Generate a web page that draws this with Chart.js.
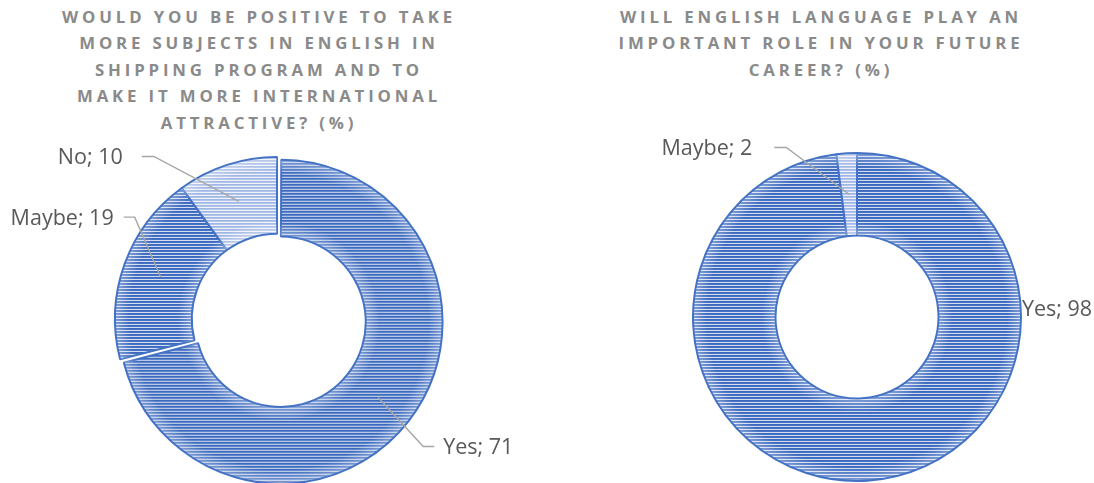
<!DOCTYPE html>
<html>
<head>
<meta charset="utf-8">
<script src="https://cdn.jsdelivr.net/npm/chart.js@4.4.1/dist/chart.umd.min.js"></script>
<style>
  html, body { margin:0; padding:0; background:#fff; width:1094px; height:483px; overflow:hidden; position:relative; }
  .title { position:absolute; top:4px; width:560px; text-align:center; font-family:"Open Sans", sans-serif; font-weight:700;
           font-size:16.8px; line-height:26.4px; letter-spacing:3.85px; color:#8a8a8a; white-space:nowrap; }
  canvas { position:absolute; }
</style>
</head>
<body>
<div class="title" id="t1" style="left:-21px"></div>
<div class="title" id="t2" style="left:541px"></div>
<canvas id="c1" width="547" height="353" style="left:0px;top:130px;width:547px;height:353px"></canvas>
<canvas id="c2" width="547" height="353" style="left:547px;top:130px;width:547px;height:353px"></canvas>
<script>
// ---- data ----
const title1Lines = ["WOULD YOU BE POSITIVE TO TAKE", "MORE SUBJECTS IN ENGLISH IN", "SHIPPING PROGRAM AND TO", "MAKE IT MORE INTERNATIONAL", "ATTRACTIVE? (%)"];
const title2Lines = ["WILL ENGLISH LANGUAGE PLAY AN", "IMPORTANT ROLE IN YOUR FUTURE", "CAREER? (%)"];
const categories1 = ["Yes", "Maybe", "No"];
const values1 = [71, 19, 10];
const categories2 = ["Yes", "Maybe"];
const values2 = [98, 2];

document.getElementById('t1').innerHTML = title1Lines.join('<br>');
document.getElementById('t2').innerHTML = title2Lines.join('<br>');

function stripes(rows) {
  const c = document.createElement('canvas');
  c.width = 4; c.height = rows.length;
  const x = c.getContext('2d');
  rows.forEach((col, i) => { x.fillStyle = col; x.fillRect(0, i, 4, 1); });
  return x.createPattern(c, 'repeat');
}
const darkPat = stripes(['#3d68bb', '#4472C4', '#d3ddf1']);
const lightPat = stripes(['#9fb5e2', '#b3c5ea', '#eef2fa']);

// Chart.js translates an offset arc by offset/4 and grows its drawn radii by
// offset/4 * (1 - sin(min(PI, circumference))); undo that growth so the exploded
// slice keeps the same ring size as the others.
function radiusGrowth(arc) {
  const o = (arc.options.offset || 0) / 4;
  return o * (1 - Math.sin(Math.min(Math.PI, arc.circumference || 0)));
}
const explodeFix = {
  id: 'explodeFix',
  afterDatasetsUpdate(chart) {
    chart.getDatasetMeta(0).data.forEach(arc => {
      const g = radiusGrowth(arc);
      if (g) { arc.outerRadius -= g; arc.innerRadius -= g; }
    });
  }
};

function arcGeom(arc) {
  const mid = (arc.startAngle + arc.endAngle) / 2;
  const t = (arc.options.offset || 0) / 4;
  const g = radiusGrowth(arc);
  return { mid, cx: arc.x + Math.cos(mid) * t, cy: arc.y + Math.sin(mid) * t,
           ri: arc.innerRadius + g, ro: arc.outerRadius + g };
}

// soft light band near inner and outer edges of each ring slice
const glowPlugin = {
  id: 'glow',
  afterDatasetsDraw(chart) {
    const ctx = chart.ctx;
    chart.getDatasetMeta(0).data.forEach(arc => {
      const { cx, cy, ri, ro } = arcGeom(arc);
      ctx.save();
      ctx.beginPath();
      ctx.arc(cx, cy, ro - 1, arc.startAngle, arc.endAngle);
      ctx.arc(cx, cy, ri + 1, arc.endAngle, arc.startAngle, true);
      ctx.closePath();
      ctx.clip();
      const grad = ctx.createRadialGradient(cx, cy, ri, cx, cy, ro);
      const w = 14 / (ro - ri);
      grad.addColorStop(0, 'rgba(255,255,255,0.35)');
      grad.addColorStop(w, 'rgba(255,255,255,0)');
      grad.addColorStop(1 - w, 'rgba(255,255,255,0)');
      grad.addColorStop(1, 'rgba(255,255,255,0.35)');
      ctx.fillStyle = grad;
      ctx.fillRect(cx - ro, cy - ro, ro * 2, ro * 2);
      ctx.restore();
    });
  }
};

const leaderPlugin = {
  id: 'leaders',
  afterDatasetsDraw(chart, args, opts) {
    const ctx = chart.ctx;
    const meta = chart.getDatasetMeta(0);
    const ds = chart.data.datasets[0];
    meta.data.forEach((arc, i) => {
      const L = opts.labels[i];
      const text = chart.data.labels[i] + '; ' + ds.data[i];
      ctx.save();
      ctx.font = opts.font;
      ctx.fillStyle = opts.color;
      ctx.textBaseline = 'middle';
      const { mid, cx, cy, ri, ro } = arcGeom(arc);
      if (L.leader) {
        const rm = (ri + ro) / 2;
        const px = cx + Math.cos(mid) * rm, py = cy + Math.sin(mid) * rm;
        const ex = px + L.dx, ey = py + L.dy;
        const hx = ex + L.side * L.h;
        ctx.strokeStyle = opts.lineColor;
        ctx.lineWidth = 1.4;
        ctx.beginPath();
        ctx.moveTo(px, py);
        ctx.lineTo(ex, ey);
        ctx.lineTo(hx, ey);
        ctx.stroke();
        ctx.textAlign = L.side < 0 ? 'right' : 'left';
        ctx.fillText(text, hx + L.side * L.gap, ey + 1.5);
      } else {
        ctx.textAlign = 'left';
        ctx.fillText(text, arc.x + ro + L.gap, arc.y + L.dy);
      }
      ctx.restore();
    });
  }
};

function makeChart(id, labels, values, bg, offsets, radius, cutout, padding, labelCfg) {
  return new Chart(document.getElementById(id), {
    type: 'doughnut',
    data: {
      labels: labels,
      datasets: [{
        data: values,
        backgroundColor: bg,
        borderColor: '#4472C4',
        borderWidth: 2,
        offset: offsets
      }]
    },
    options: {
      responsive: false,
      animation: false,
      events: [],
      radius: radius,
      cutout: cutout,
      layout: { padding: padding },
      plugins: {
        legend: { display: false },
        tooltip: { enabled: false },
        title: { display: false },
        leaders: { font: '21.5px "Open Sans", sans-serif', color: '#595959', lineColor: '#a6a6a6', labels: labelCfg }
      }
    },
    plugins: [explodeFix, glowPlugin, leaderPlugin]
  });
}

makeChart('c1', categories1, values1, [darkPat, darkPat, lightPat], [18, 0, 0], 162, 81,
  { left: 7, right: 0, top: 25, bottom: 0 },
  [
    { leader: true, dx: 45, dy: 49, side: 1, h: 11, gap: 9 },
    { leader: true, dx: -26, dy: -60, side: -1, h: 11, gap: 10 },
    { leader: true, dx: -85, dy: -45, side: -1, h: 12, gap: 19 }
  ]);

makeChart('c2', categories2, values2, [darkPat, lightPat], [0, 0], 164, 82,
  { left: 73, right: 0, top: 21, bottom: 0 },
  [
    { leader: false, gap: 1, dy: -7 },
    { leader: true, dx: -63, dy: -47, side: -1, h: 12, gap: 22 }
  ]);
</script>
</body>
</html>
